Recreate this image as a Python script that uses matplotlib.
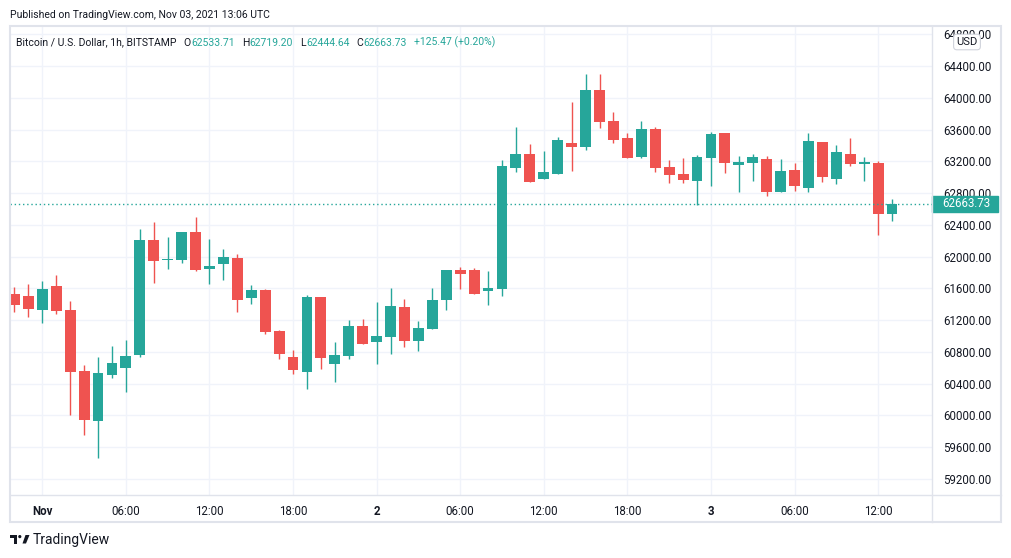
import matplotlib.pyplot as plt
import matplotlib.patches as mpatches
from matplotlib.lines import Line2D
import numpy as np
import pandas as pd

plt.rcParams['font.family'] = ['Roboto', 'DejaVu Sans']

# hourly BTC/USD candles, Bitstamp, Oct 31 22:00 -> Nov 3 13:00 UTC
times = pd.date_range('2021-10-31 22:00', periods=64, freq='h')

opens = [61529, 61504, 61332, 61630, 61328, 60560, 59934, 60514, 60602, 60765,
         62209, 61960, 61957, 62310, 61844, 61907, 61983, 61483, 61579, 61063,
         60736, 60551, 61491, 60652, 60753, 61126, 60929, 60992, 61365, 60941,
         61093, 61458, 61831, 61831, 61571, 61592, 63120, 63292, 62981, 63044,
         63430, 63384, 64098, 63707, 63493, 63258, 63607, 63128, 63040, 62956,
         63246, 63556, 63158, 63183, 63229, 62818, 63091, 62868, 63443, 62981,
         63292, 63170, 63179, 62533.71]
highs = [61617, 61655, 61693, 61768, 61441, 60635, 60736, 60875, 60950, 62348,
         62436, 62247, 62312, 62499, 62222, 62096, 62033, 61643, 61592, 61076,
         60824, 61516, 61495, 60925, 61202, 61214, 61428, 61605, 61466, 61189,
         61605, 61835, 61869, 61856, 61819, 63216, 63632, 63418, 63334, 63506,
         63947, 64299, 64299, 63821, 63556, 63707, 63632, 63216, 63242, 63279,
         63569, 63560, 63267, 63292, 63267, 63229, 63179, 63556, 63446, 63405,
         63493, 63254, 63204, 62719.20]
lows = [61307, 61244, 61168, 61282, 60010, 59758, 59469, 60476, 60300, 60740,
        61672, 61844, 61920, 61819, 61659, 61710, 61307, 61408, 61030, 60715,
        60526, 60337, 60589, 60425, 60715, 60900, 60652, 60778, 60866, 60816,
        61085, 61332, 61592, 61530, 61395, 61504, 63070, 62940, 62978, 63040,
        63082, 63346, 63623, 63435, 63245, 63246, 63070, 62931, 62931, 62656,
        62893, 63057, 62818, 62956, 62767, 62815, 62830, 62818, 62944, 62918,
        63145, 62956, 62276, 62444.64]
closes = [61395, 61345, 61592, 61319, 60551, 59947, 60535, 60661, 60749, 62209,
          61945, 61975, 62310, 61831, 61882, 61995, 61458, 61580, 61055, 60778,
          60576, 61491, 60727, 60761, 61126, 60904, 61000, 61378, 60941, 61101,
          61453, 61831, 61785, 61533, 61605, 63141, 63292, 62944, 63065, 63468,
          63384, 64098, 63699, 63472, 63246, 63607, 63120, 63032, 62969, 63254,
          63544, 63183, 63191, 63254, 62818, 63078, 62893, 63456, 63007, 63317,
          63170, 63191, 62533.71, 62663.73]

tick_hours = [0, 6, 12, 18, 24, 30, 36, 42, 48, 54, 60]
tick_labels = ['Nov', '06:00', '12:00', '18:00', '2', '06:00', '12:00', '18:00',
               '3', '06:00', '12:00']
price_ticks = np.arange(59200, 64801, 400)

symbol_text = 'Bitcoin / U.S. Dollar, 1h, BITSTAMP'
change_text = '+125.47 (+0.20%)'
published_text = 'Published on TradingView.com, Nov 03, 2021 13:06 UTC'
last_price = closes[-1]

UP = '#26a69a'
DOWN = '#ef5350'
TXT = '#131722'
BORDER = '#e0e3eb'
GRID = '#f0f3fa'

W, H = 1012, 558


def fx(x):
    return x / W


def fy(y):
    return 1 - y / H


fig = plt.figure(figsize=(W / 100, H / 100), dpi=100)
fig.patch.set_facecolor('white')
ax = fig.add_axes([fx(10), fy(495), (932 - 10) / W, (495 - 26) / H])

x = (times - pd.Timestamp('2021-11-01 00:00')) / pd.Timedelta(hours=1)
x = np.asarray(x, dtype=float)
o = np.array(opens)
c = np.array(closes)
colors = [UP if cc >= oo else DOWN for oo, cc in zip(o, c)]

ax.vlines(x, lows, highs, colors=colors, linewidth=1.0, zorder=3)
body_bot = np.minimum(o, c)
body_h = np.maximum(np.abs(c - o), 12)
ax.bar(x, body_h, bottom=body_bot, width=0.78, color=colors, linewidth=0, zorder=4)

ax.set_xlim(-2.32, 63.87)
ax.set_ylim(58998, 64904)

ax.set_xticks(tick_hours)
ax.set_xticklabels(tick_labels)
for lab in ax.get_xticklabels():
    if lab.get_text() in ('Nov', '2', '3'):
        lab.set_fontweight('bold')
ax.set_yticks(price_ticks)
ax.set_yticklabels([f'{v:.2f}' for v in price_ticks])
ax.yaxis.tick_right()
ax.tick_params(axis='x', length=0, pad=7, labelsize=8.3, labelcolor=TXT)
ax.tick_params(axis='y', length=0, pad=8, labelsize=8.3, labelcolor=TXT)
ax.grid(True, color=GRID, linewidth=1, zorder=0)
ax.set_axisbelow(True)
for s in ax.spines.values():
    s.set_visible(False)

# last price line + label (covers part of the 62800 label, as in the original)
ax.axhline(last_price, color=UP, linewidth=1, linestyle=(0, (1, 2)), zorder=5)
yt = ax.get_yaxis_transform()
ax.add_patch(mpatches.Rectangle((1.0, last_price - 100), 66 / 922, 200,
                                transform=yt, clip_on=False, facecolor=UP,
                                edgecolor=UP, zorder=6))
ax.text(1.0 + 10 / 922, last_price, f'{last_price:.2f}', transform=yt,
        color='white', fontsize=8.3, va='center', ha='left', zorder=7)

# frame lines
fig.add_artist(mpatches.Rectangle((fx(10), fy(522)), (1001 - 10) / W, (522 - 26) / H,
                                  transform=fig.transFigure, fill=False,
                                  edgecolor=BORDER, linewidth=1.5))
fig.add_artist(Line2D([fx(10), fx(1001)], [fy(495), fy(495)], color=BORDER, linewidth=1))
fig.add_artist(Line2D([fx(932), fx(932)], [fy(26), fy(522)], color=BORDER, linewidth=1))

# USD badge (sits over the top price label, as in the original)
fig.text(fx(967), fy(42), 'USD', fontsize=8, color=TXT, ha='center', va='center',
         bbox=dict(boxstyle='round,pad=0.25,rounding_size=0.3', fc='white', ec='#d1d4dc', lw=0.8),
         zorder=10)

# header texts, chained left to right
hs = 7.5
fig.text(fx(10), fy(15), published_text, fontsize=hs, color=TXT, va='center')
renderer = fig.canvas.get_renderer()
yh = fy(42.5)
pieces = [(symbol_text, TXT, 0)]
for letter, val in [('O', opens[-1]), ('H', highs[-1]), ('L', lows[-1]), ('C', closes[-1])]:
    pieces.append((letter, TXT, 7))
    pieces.append((f'{val:.2f}', UP, 0.5))
pieces.append((change_text, UP, 7))
cur = 16
for s, col, gap in pieces:
    t = fig.text(fx(cur + gap), yh, s, fontsize=hs, color=col, va='center')
    cur = t.get_window_extent(renderer).x1

# TradingView logo
logo = '#131722'
fig.add_artist(mpatches.Polygon([(fx(10), fy(535)), (fx(17), fy(535)), (fx(17), fy(543.5)),
                                 (fx(14), fy(543.5)), (fx(14), fy(538)), (fx(10), fy(538))],
                                closed=True, transform=fig.transFigure, fc=logo, ec='none'))
fig.add_artist(mpatches.Ellipse((fx(19.8), fy(536.6)), 3.2 / W, 3.2 / H,
                                transform=fig.transFigure, fc=logo, ec='none'))
fig.add_artist(mpatches.Polygon([(fx(22.5), fy(543.5)), (fx(25.5), fy(535)), (fx(29.5), fy(535)),
                                 (fx(26), fy(543.5))],
                                closed=True, transform=fig.transFigure, fc=logo, ec='none'))
fig.text(fx(33), fy(540), 'TradingView', fontsize=10, color=logo, va='center')

fig.savefig('out.png', dpi=100, facecolor='white')
